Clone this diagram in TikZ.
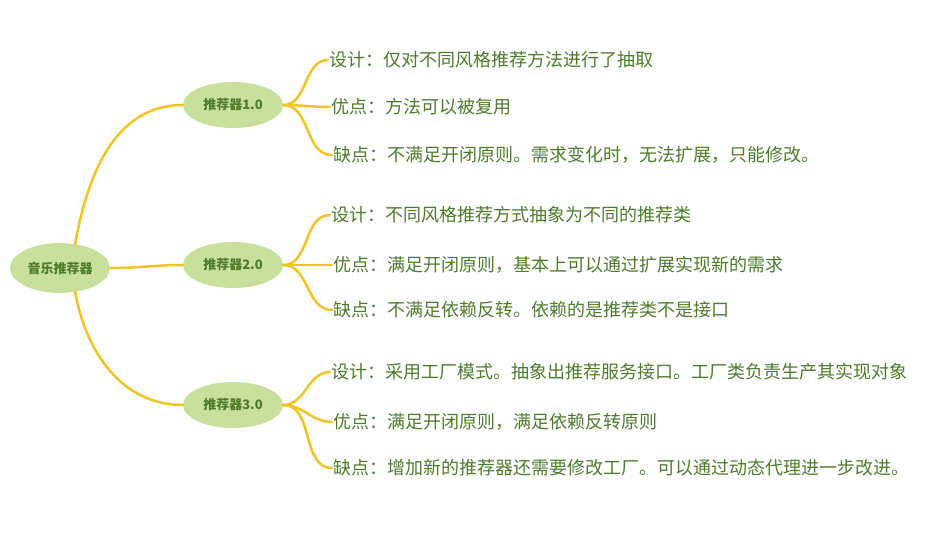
\documentclass[tikz,border=0pt]{standalone}
\usepackage{fontspec}
\setmainfont{Noto Sans CJK SC}
\usepackage{tikz}
\usetikzlibrary{shapes.geometric}
\definecolor{blobgreen}{HTML}{C8E09C}
\definecolor{textgreen}{HTML}{4E7A2C}
\definecolor{branchyellow}{HTML}{F0C424}

\begin{document}
\begin{tikzpicture}[x=1pt, y=-1pt,
  font=\fontsize{18}{20}\selectfont,
  blob/.style={ellipse, fill=blobgreen, text=textgreen, inner sep=2pt, minimum width=100pt, minimum height=46pt, font=\fontsize{13}{15}\selectfont\bfseries},
  leaf/.style={anchor=west, text=textgreen, inner sep=1pt},
  branch/.style={branchyellow, line width=2.5pt, line cap=round}]

\useasboundingbox (0,0) rectangle (946,536);

%% root and the three versions
\node [blob, minimum width=100pt, minimum height=50pt] (root) at (60, 268) {音乐推荐器};
\node [blob] (v1) at (233, 105) {推荐器1.0};
\node [blob] (v2) at (233, 265) {推荐器2.0};
\node [blob] (v3) at (233, 405) {推荐器3.0};

% root branches
\draw [branch] (root.north) ++(15,2) to [out=80, in=180] (v1.west);
\draw [branch] (root.east) to [out=0, in=180] (v2.west);
\draw [branch] (root.south) ++(15,-2) to [out=-80, in=180] (v3.west);

%% leaves of 1.0
\node [leaf] (d1) at (328, 60) {设计：仅对不同风格推荐方法进行了抽取};
\node [leaf] (p1) at (330, 107) {优点：方法可以被复用};
\node [leaf] (c1) at (332, 155) {缺点：不满足开闭原则。需求变化时，无法扩展，只能修改。};

%% leaves of 2.0
\node [leaf] (d2) at (330, 215) {设计：不同风格推荐方式抽象为不同的推荐类};
\node [leaf] (p2) at (332, 265) {优点：满足开闭原则，基本上可以通过扩展实现新的需求};
\node [leaf] (c2) at (332, 310) {缺点：不满足依赖反转。依赖的是推荐类不是接口};

%% leaves of 3.0
\node [leaf] (d3) at (330, 372) {设计：采用工厂模式。抽象出推荐服务接口。工厂类负责生产其实现对象};
\node [leaf] (p3) at (332, 422) {优点：满足开闭原则，满足依赖反转原则};
\node [leaf] (c3) at (332, 468) {缺点：增加新的推荐器还需要修改工厂。可以通过动态代理进一步改进。};

% leaf branches
\foreach \v/\d/\p/\c in {v1/d1/p1/c1, v2/d2/p2/c2, v3/d3/p3/c3} {
  \draw [branch] (\v.east) to [out=0, in=180] (\d.west);
  \draw [branch] (\v.east) to [out=0, in=180] (\p.west);
  \draw [branch] (\v.east) to [out=0, in=180] (\c.west);
}

\end{tikzpicture}
\end{document}
